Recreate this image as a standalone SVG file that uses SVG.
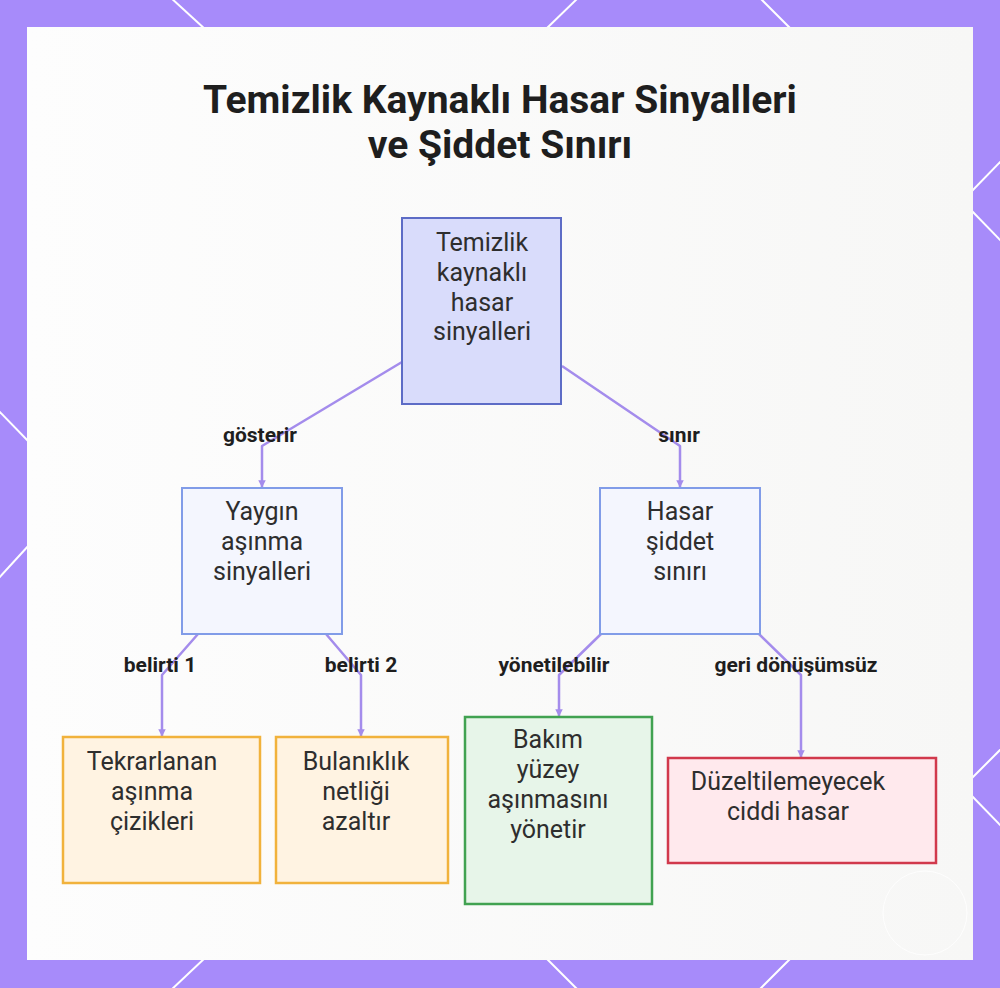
<svg xmlns="http://www.w3.org/2000/svg" width="1000" height="988" viewBox="0 0 1000 988">
  <defs>
    <linearGradient id="panelGrad" x1="0" y1="0" x2="1" y2="0">
      <stop offset="0" stop-color="#fdfdfd"/>
      <stop offset="1" stop-color="#f7f7f6"/>
    </linearGradient>
    <marker id="arrow" viewBox="0 0 10 10" refX="9" refY="5" markerWidth="3" markerHeight="3" orient="auto">
      <path d="M0,0 L10,5 L0,10 Z" fill="#a48cec"/>
    </marker>
    <style>
      .frameLine { stroke: #ffffff; stroke-width: 2; fill: none; }
      .title { font-family: Roboto, "Liberation Sans", sans-serif; font-weight: 700; font-size: 39px; fill: #1e1e1e; text-anchor: middle; }
      .nodeText { font-family: Roboto, "Liberation Sans", sans-serif; font-size: 25px; fill: #2e2e2e; text-anchor: middle; }
      .edgeLabel { font-family: Roboto, "Liberation Sans", sans-serif; font-weight: 700; font-size: 21px; fill: #1e1e1e; text-anchor: middle; }
      .edge { stroke: #a48cec; stroke-width: 2.5; fill: none; stroke-linejoin: round; marker-end: url(#arrow); }
      .root { fill: #d9dcfb; stroke: #5d6cc6; stroke-width: 2; }
      .mid { fill: #f4f6fe; stroke: #819ce8; stroke-width: 2; }
      .orange { fill: #fff3e2; stroke: #f1b23c; stroke-width: 2.5; }
      .green { fill: #e7f5e9; stroke: #41a251; stroke-width: 2.5; }
      .red { fill: #ffe9ed; stroke: #d1394c; stroke-width: 2.5; }
    </style>
  </defs>

  <!-- frame background -->
  <rect x="0" y="0" width="1000" height="988" fill="#a78bfa"/>
  <g id="frame-lines">
    <line class="frameLine" x1="170" y1="-3" x2="206" y2="30"/>
    <line class="frameLine" x1="579" y1="-3" x2="545" y2="30"/>
    <line class="frameLine" x1="759" y1="-3" x2="792" y2="30"/>
    <line class="frameLine" x1="1003" y1="159" x2="970" y2="193"/>
    <line class="frameLine" x1="970" y1="209" x2="1003" y2="243"/>
    <line class="frameLine" x1="1003" y1="747" x2="970" y2="780"/>
    <line class="frameLine" x1="970" y1="794" x2="1003" y2="828"/>
    <line class="frameLine" x1="-3" y1="409" x2="30" y2="443"/>
    <line class="frameLine" x1="30" y1="544" x2="-3" y2="580"/>
    <line class="frameLine" x1="206" y1="957" x2="170" y2="991"/>
    <line class="frameLine" x1="545" y1="957" x2="579" y2="991"/>
    <line class="frameLine" x1="792" y1="957" x2="758" y2="991"/>
  </g>
  <rect x="27" y="27" width="946" height="933" fill="url(#panelGrad)"/>
  <circle cx="925" cy="913" r="42" fill="none" stroke="#ffffff" stroke-width="1" opacity="0.8"/>

  <!-- title -->
  <g id="title">
    <text class="title" x="500" y="113">Temizlik Kaynaklı Hasar Sinyalleri</text>
    <text class="title" x="500" y="158">ve Şiddet Sınırı</text>
  </g>

  <!-- connectors -->
  <g id="connectors">
    <path class="edge" d="M402,362 L262,446 L262,487"/>
    <path class="edge" d="M562,366 L680,446 L680,487"/>
    <path class="edge" d="M198,634 L162,675 L162,736"/>
    <path class="edge" d="M326,634 L361,675 L361,736"/>
    <path class="edge" d="M601,634 L559,675 L559,716"/>
    <path class="edge" d="M759,634 L801,675 L801,757"/>
  </g>

  <!-- edge labels -->
  <g id="edge-labels">
    <text class="edgeLabel" x="260" y="442">gösterir</text>
    <text class="edgeLabel" x="679" y="442">sınır</text>
    <text class="edgeLabel" x="160" y="672">belirti 1</text>
    <text class="edgeLabel" x="361" y="672">belirti 2</text>
    <text class="edgeLabel" x="554" y="672">yönetilebilir</text>
    <text class="edgeLabel" x="796" y="672">geri dönüşümsüz</text>
  </g>

  <!-- nodes -->
  <g id="node-root">
    <rect class="root" x="402" y="218" width="159" height="186"/>
    <text class="nodeText" x="482" y="251">Temizlik</text>
    <text class="nodeText" x="482" y="281">kaynaklı</text>
    <text class="nodeText" x="482" y="311">hasar</text>
    <text class="nodeText" x="482" y="340">sinyalleri</text>
  </g>
  <g id="node-yaygin">
    <rect class="mid" x="182" y="488" width="160" height="146"/>
    <text class="nodeText" x="262" y="520">Yaygın</text>
    <text class="nodeText" x="262" y="550">aşınma</text>
    <text class="nodeText" x="262" y="580">sinyalleri</text>
  </g>
  <g id="node-hasar">
    <rect class="mid" x="600" y="488" width="160" height="146"/>
    <text class="nodeText" x="680" y="520">Hasar</text>
    <text class="nodeText" x="680" y="550">şiddet</text>
    <text class="nodeText" x="680" y="580">sınırı</text>
  </g>
  <g id="node-tekrar">
    <rect class="orange" x="63" y="737" width="197" height="146"/>
    <text class="nodeText" x="152" y="770">Tekrarlanan</text>
    <text class="nodeText" x="152" y="800">aşınma</text>
    <text class="nodeText" x="152" y="830">çizikleri</text>
  </g>
  <g id="node-bulanik">
    <rect class="orange" x="276" y="737" width="172" height="146"/>
    <text class="nodeText" x="356" y="770">Bulanıklık</text>
    <text class="nodeText" x="356" y="800">netliği</text>
    <text class="nodeText" x="356" y="830">azaltır</text>
  </g>
  <g id="node-bakim">
    <rect class="green" x="465" y="717" width="187" height="187"/>
    <text class="nodeText" x="548" y="748">Bakım</text>
    <text class="nodeText" x="548" y="778">yüzey</text>
    <text class="nodeText" x="548" y="808">aşınmasını</text>
    <text class="nodeText" x="548" y="838">yönetir</text>
  </g>
  <g id="node-duzelt">
    <rect class="red" x="668" y="758" width="268" height="105"/>
    <text class="nodeText" x="788" y="790">Düzeltilemeyecek</text>
    <text class="nodeText" x="788" y="820">ciddi hasar</text>
  </g>
</svg>
